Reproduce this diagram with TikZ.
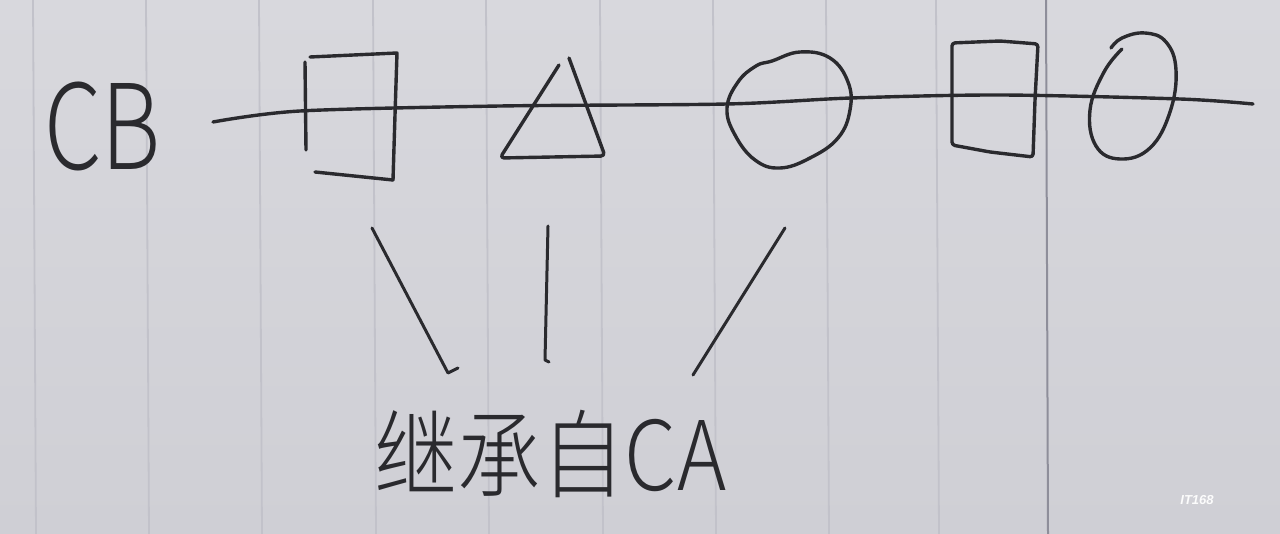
\documentclass[tikz,border=0pt]{standalone}
\usepackage{fontspec}
\newfontfamily\cjk{Noto Sans CJK SC}[UprightFont=* Light]
\newfontfamily\wmfont{Liberation Sans}
\definecolor{paper}{HTML}{D8D8DD}
\definecolor{paperdark}{HTML}{CFCFD5}
\definecolor{rule}{HTML}{C2C2CA}
\definecolor{ruledark}{HTML}{8E8E9A}
\definecolor{ink}{HTML}{2A2A2E}
\tikzset{
  pen/.style={draw=ink, line width=3.4pt, line cap=round, line join=round},
  paperline/.style={draw=rule, line width=1.8pt},
  handtext/.style={text=ink, inner sep=0pt, font=\cjk},
}
\begin{document}
\begin{tikzpicture}[x=1pt,y=-1pt]
\useasboundingbox (0,0) rectangle (1280,534);
\shade[top color=paper, bottom color=paperdark] (0,0) rectangle (1280,534);
% ruled paper lines
\foreach \rx in {33,146,259,373,486,600,713,826,936}{
  \draw[paperline] (\rx,0) -- ({\rx+3},534);
}
\draw[draw=ruledark, line width=2pt] (1046,0) -- (1048,534);

% label CB
\node[handtext, anchor=base west] (cb) at (44,170) {\scalebox{0.78}[1]{\fontsize{118}{118}\selectfont CB}};

% main horizontal line
\coordinate (hl0) at (213,122);
\coordinate (hl1) at (1253,104);
\draw[pen] plot[smooth, tension=0.5] coordinates {(hl0) (300,111) (500,106) (727,104) (851,98) (1000,95) (1180,99) (hl1)};

% square 1 (open, bracket-like)
\draw[pen] (306,150) -- (305,62);
\draw[pen] (310,57) -- (397,53) -- (395,115) -- (393,180);
\draw[pen] (315,172) -- (393,180);

% triangle
\draw[pen, rounded corners=4pt] (559,65) -- (500,158) -- (605,156) -- (569,58);

% circle
\draw[pen] plot[smooth cycle, tension=0.7] coordinates {(772,61) (800,52) (830,58) (848,82) (850,110) (838,138) (810,158) (780,168) (755,160) (735,135) (727,108) (738,82) (756,66)};

% square 2
\draw[pen, rounded corners=3pt] (952,43) -- (1000,41) -- (1038,44) -- (1035,100) -- (1033,157) -- (990,152) -- (952,145) -- cycle;

% ellipse
\draw[pen] plot[smooth, tension=0.7] coordinates {(1122,49) (1104,72) (1090,110) (1096,146) (1120,159) (1150,148) (1170,112) (1176,70) (1166,42) (1145,33) (1122,38) (1111,48)};

% three strokes towards the label
\coordinate (s1a) at (372,228);
\coordinate (s1b) at (448,373);
\coordinate (s1c) at (458,368);
\coordinate (s2a) at (548,226);
\coordinate (s2b) at (545,360);
\coordinate (s2c) at (549,362);
\coordinate (s3a) at (785,228);
\coordinate (s3b) at (693,375);
\draw[pen, line width=3pt] (s1a) -- (s1b) -- (s1c);
\draw[pen, line width=3pt] (s2a) -- (s2b) -- (s2c);
\draw[pen, line width=3pt] (s3a) -- (s3b);

% bottom label
\node[handtext, anchor=base west] (ca) at (374,490) {\scalebox{0.87}[1]{\fontsize{96}{96}\selectfont 继承自CA}};

% watermark
\node[text=white!92!paper, inner sep=0pt, font=\wmfont\bfseries\itshape\fontsize{13}{13}\selectfont] (wm) at (1197,500) {IT168};
\end{tikzpicture}
\end{document}
